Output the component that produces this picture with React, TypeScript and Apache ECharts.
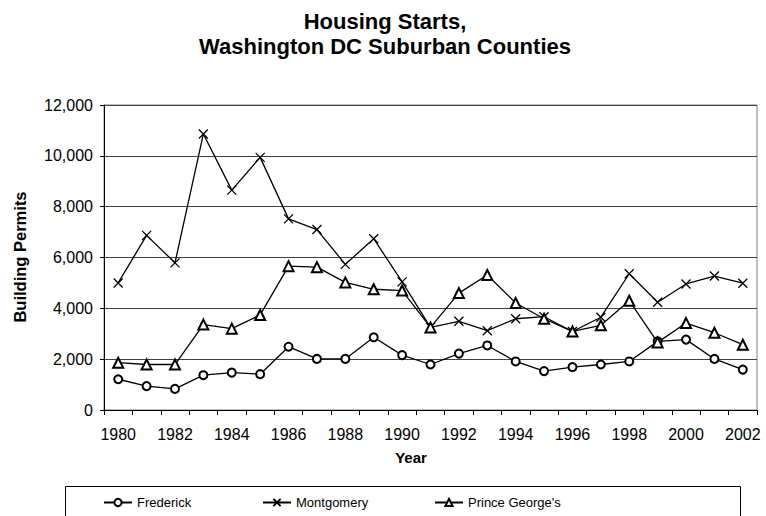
import React, { useEffect, useRef } from "react";
import * as echarts from "echarts";

const years = ["1980","1981","1982","1983","1984","1985","1986","1987","1988","1989","1990","1991","1992","1993","1994","1995","1996","1997","1998","1999","2000","2001","2002"];
const frederick = [1210, 940, 830, 1370, 1470, 1410, 2490, 2010, 2010, 2860, 2160, 1790, 2220, 2540, 1910, 1530, 1690, 1790, 1910, 2700, 2770, 2010, 1590];
const montgomery = [5000, 6870, 5790, 10860, 8650, 9940, 7520, 7100, 5730, 6740, 5040, 3250, 3490, 3120, 3590, 3670, 3090, 3650, 5360, 4240, 4960, 5270, 4990];
const princeGeorges = [1860, 1790, 1790, 3360, 3200, 3740, 5660, 5620, 5020, 4750, 4700, 3250, 4600, 5310, 4210, 3590, 3090, 3330, 4300, 2660, 3420, 3040, 2570];
const seriesNames = ["Frederick", "Montgomery", "Prince George's"];

const FONT = "Arial, 'Liberation Sans', sans-serif";

export default function App() {
  const ref = useRef<HTMLDivElement>(null);
  useEffect(() => {
    if (!ref.current) return;
    const chart = echarts.init(ref.current, null, { renderer: "svg" });
    const legendBase = {
      orient: "horizontal",
      top: 496,
      padding: 0,
      itemWidth: 28,
      itemHeight: 9,
      textStyle: { fontFamily: FONT, fontSize: 13, color: "#000" },
    };
    chart.setOption({
      animation: false,
      backgroundColor: "#fff",
      title: {
        text: "Housing Starts,\nWashington DC Suburban Counties",
        left: 380,
        textAlign: "center",
        top: 4,
        textStyle: { fontFamily: FONT, fontSize: 22, fontWeight: "bold", color: "#000", lineHeight: 25 },
      },
      grid: {
        left: 104,
        right: 9,
        top: 105,
        bottom: 106,
        show: true,
        borderColor: "#808080",
        borderWidth: 1,
        containLabel: false,
      },
      legend: [
        { ...legendBase, left: 103, data: [seriesNames[0]] },
        { ...legendBase, left: 262, data: [seriesNames[1]] },
        { ...legendBase, left: 434, data: [seriesNames[2]] },
      ],
      xAxis: {
        type: "category",
        data: years,
        boundaryGap: true,
        axisLine: { show: true, lineStyle: { color: "#000", width: 1 } },
        axisTick: { show: true, interval: 0, length: 5, lineStyle: { color: "#000" } },
        axisLabel: { interval: 1, margin: 16, fontFamily: FONT, fontSize: 16, color: "#000" },
        splitLine: { show: false },
      },
      yAxis: {
        type: "value",
        min: 0,
        max: 12000,
        interval: 2000,
        axisLine: { show: true, lineStyle: { color: "#000", width: 1 } },
        axisTick: { show: true, length: 4, lineStyle: { color: "#000" } },
        axisLabel: {
          margin: 11,
          fontFamily: FONT,
          fontSize: 16,
          color: "#000",
          formatter: (v: number) => v.toLocaleString("en-US"),
        },
        splitLine: { show: true, lineStyle: { color: "#404040", width: 1 } },
      },
      graphic: [
        {
          type: "text",
          x: 20,
          y: 257,
          rotation: Math.PI / 2,
          style: { text: "Building Permits", fontFamily: FONT, fontSize: 16.5, fontWeight: "bold", fill: "#000", align: "center", verticalAlign: "middle" },
        },
        {
          type: "text",
          x: 411,
          y: 457,
          style: { text: "Year", fontFamily: FONT, fontSize: 15, fontWeight: "bold", fill: "#000", align: "center", verticalAlign: "middle" },
        },
        {
          type: "rect",
          shape: { x: 65.5, y: 486.5, width: 675, height: 40 },
          style: { fill: "none", stroke: "#000", lineWidth: 1 },
          silent: true,
        },
      ],
      series: [
        {
          name: seriesNames[0],
          type: "line",
          data: frederick,
          symbol: "emptyCircle",
          symbolSize: 8,
          showAllSymbol: true,
          lineStyle: { color: "#000", width: 1.3 },
          itemStyle: { color: "#000", borderColor: "#000", borderWidth: 1.1 },
        },
        {
          name: seriesNames[1],
          type: "line",
          data: montgomery,
          symbol: "path://M0,0L10,10M10,0L0,10",
          symbolSize: 9,
          showAllSymbol: true,
          lineStyle: { color: "#000", width: 1.3 },
          itemStyle: { color: "#000", borderColor: "#000", borderWidth: 1.3 },
        },
        {
          name: seriesNames[2],
          type: "line",
          data: princeGeorges,
          symbol: "emptyTriangle",
          symbolSize: 10,
          showAllSymbol: true,
          lineStyle: { color: "#000", width: 1.3 },
          itemStyle: { color: "#000", borderColor: "#000", borderWidth: 1.3 },
        },
      ],
    });
    return () => chart.dispose();
  }, []);
  return <div ref={ref} style={{ position: "fixed", left: 0, top: 0, width: 766, height: 516 }} />;
}
